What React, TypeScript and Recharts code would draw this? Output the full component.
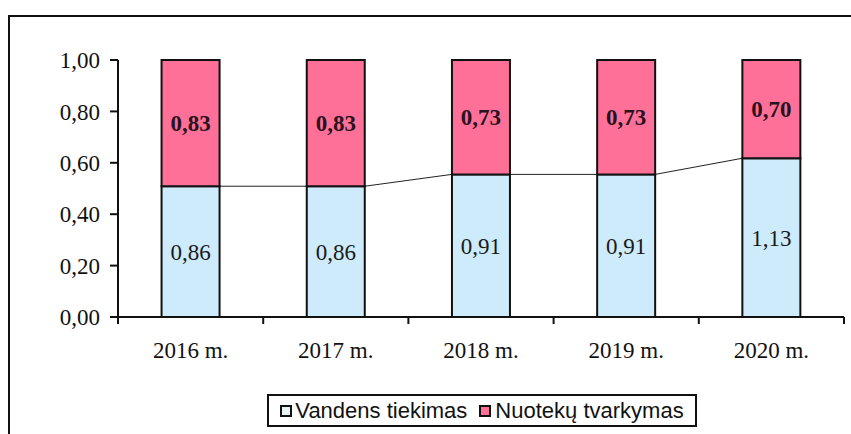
import React from 'react';
import { BarChart, Bar, XAxis, YAxis, LabelList } from 'recharts';

const years = ['2016 m.', '2017 m.', '2018 m.', '2019 m.', '2020 m.'];
const vandensTiekimas = [0.86, 0.86, 0.91, 0.91, 1.13];
const nuotekuTvarkymas = [0.83, 0.83, 0.73, 0.73, 0.7];
const yTicks = [0, 0.2, 0.4, 0.6, 0.8, 1];
const seriesNames = ['Vandens tiekimas', 'Nuotekų tvarkymas'];

const data = years.map((year, i) => ({ year, vt: vandensTiekimas[i], nt: nuotekuTvarkymas[i] }));

const BLUE = '#CDEBFA';
const PINK = '#FF7098';
const GAP = 0.3;
const SERIF = '"Liberation Serif", "Times New Roman", serif';
const SANS = '"Liberation Sans", Arial, sans-serif';

const fmt = (v: number) => v.toFixed(2).replace('.', ',');
const share = (i: number) => vandensTiekimas[i] / (vandensTiekimas[i] + nuotekuTvarkymas[i]);

const BlueShape = (props: any) => {
  const { x, y, width, height, index } = props;
  const parts: any[] = [
    <rect key="r" x={x} y={y} width={width} height={height} fill={BLUE} stroke="#111" strokeWidth={2} />,
  ];
  if (index < years.length - 1 && height > 0) {
    const bottom = y + height;
    const plotH = height / share(index);
    const step = width / (1 - 2 * GAP);
    const y2 = bottom - plotH * share(index + 1);
    parts.push(
      <line key="l" x1={x + width} y1={y} x2={x + step} y2={y2} stroke="#222" strokeWidth={1} />
    );
  }
  return <g>{parts}</g>;
};

const XTick = (props: any) => {
  const { x, y, payload, index, width, visibleTicksCount } = props;
  const band = width / visibleTicksCount;
  return (
    <g>
      <line x1={x - band / 2} y1={y} x2={x - band / 2} y2={y + 7} stroke="#111" strokeWidth={2} />
      {index === visibleTicksCount - 1 && (
        <line x1={x + band / 2} y1={y} x2={x + band / 2} y2={y + 7} stroke="#111" strokeWidth={2} />
      )}
      <text x={x} y={y + 41} textAnchor="middle" fontFamily={SERIF} fontSize={23} fill="#111">
        {payload.value}
      </text>
    </g>
  );
};

const makeLabel = (values: number[], bold: boolean, color: string) => (p: any) => {
  const { x, y, width, height, index } = p;
  return (
    <text
      x={x + width / 2}
      y={y + height / 2}
      dy="0.35em"
      textAnchor="middle"
      fontFamily={SERIF}
      fontSize={23}
      fontWeight={bold ? 'bold' : 'normal'}
      fill={color}
    >
      {fmt(values[index])}
    </text>
  );
};

export default function App() {
  return (
    <div style={{ position: 'absolute', left: 0, top: 0, width: 851, height: 434, overflow: 'hidden', background: '#fff' }}>
      <div
        style={{
          position: 'absolute',
          left: 8,
          top: 15,
          width: 870,
          height: 450,
          border: '2px solid #111',
          boxSizing: 'border-box',
        }}
      />
      <div style={{ position: 'absolute', left: 0, top: 0 }}>
        <BarChart
          width={851}
          height={434}
          data={data}
          stackOffset="expand"
          barCategoryGap="30%"
          margin={{ top: 60, right: 7, bottom: 87, left: 0 }}
        >
          <XAxis
            xAxisId="top"
            orientation="top"
            dataKey="year"
            height={0}
            tick={false}
            tickLine={false}
            axisLine={{ stroke: '#333', strokeWidth: 1.5 }}
          />
          <YAxis
            yAxisId="right"
            orientation="right"
            width={0}
            domain={[0, 1]}
            tick={false}
            tickLine={false}
            axisLine={{ stroke: '#555', strokeWidth: 1.5 }}
          />
          <XAxis
            dataKey="year"
            height={30}
            tickSize={0}
            tickMargin={0}
            interval={0}
            axisLine={{ stroke: '#111', strokeWidth: 2 }}
            tick={<XTick />}
          />
          <YAxis
            width={118}
            domain={[0, 1]}
            ticks={yTicks}
            tickFormatter={fmt}
            tickSize={8}
            tickMargin={10}
            axisLine={{ stroke: '#111', strokeWidth: 2 }}
            tickLine={{ stroke: '#111', strokeWidth: 2 }}
            tick={{ fontFamily: SERIF, fontSize: 23, fill: '#111' }}
          />
          <Bar dataKey="vt" name={seriesNames[0]} stackId="a" fill={BLUE} shape={<BlueShape />} isAnimationActive={false}>
            <LabelList content={makeLabel(vandensTiekimas, false, '#1a1a1a')} />
          </Bar>
          <Bar dataKey="nt" name={seriesNames[1]} stackId="a" fill={PINK} stroke="#111" strokeWidth={2} isAnimationActive={false}>
            <LabelList content={makeLabel(nuotekuTvarkymas, true, '#2a1220')} />
          </Bar>
        </BarChart>
      </div>
      <div
        style={{
          position: 'absolute',
          left: 267,
          top: 394,
          width: 430,
          height: 33,
          border: '2px solid #111',
          boxSizing: 'border-box',
          display: 'flex',
          alignItems: 'center',
          justifyContent: 'center',
          fontFamily: SANS,
          fontSize: 22,
          color: '#111',
          whiteSpace: 'nowrap',
        }}
      >
        <span style={{ display: 'inline-block', width: 12, height: 12, border: '2px solid #111', background: '#E6F4F4', marginRight: 3, boxSizing: 'border-box' }} />
        <span style={{ marginRight: 12 }}>{seriesNames[0]}</span>
        <span style={{ display: 'inline-block', width: 12, height: 12, border: '2px solid #111', background: PINK, marginRight: 4, boxSizing: 'border-box' }} />
        <span>{seriesNames[1]}</span>
      </div>
    </div>
  );
}
